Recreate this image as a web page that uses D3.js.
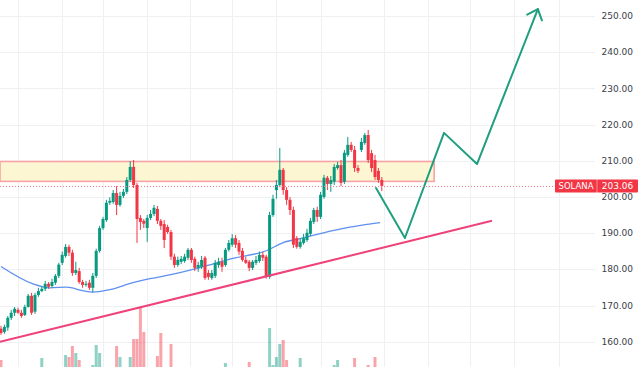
<!DOCTYPE html>
<html><head><meta charset="utf-8">
<script src="https://cdn.jsdelivr.net/npm/d3@7"></script>
<style>html,body{margin:0;padding:0;background:#fff;overflow:hidden}</style>
</head><body>
<svg id="c" width="640" height="367"></svg>
<script>
// ---- data (SOLANA candles) ----
const open  = [163.6,162.7,163.9,166.6,168.0,168.8,168.0,167.4,169.6,172.7,
168.3,172.9,174.0,174.6,176.0,175.4,176.3,178.2,181.8,183.7,
186.2,184.6,179.0,179.5,176.5,175.7,176.3,174.9,178.2,185.1,
191.4,193.6,198.4,198.6,201.1,197.8,200.3,201.4,204.7,208.3,
203.3,194.2,193.4,191.4,194.2,195.3,196.7,193.4,192.5,191.7,
190.3,183.5,181.2,182.1,182.3,183.2,185.4,182.9,180.4,180.7,
183.2,179.0,177.6,178.2,181.2,182.1,181.2,185.4,186.8,188.6,
187.3,185.1,182.6,182.1,180.4,181.8,182.3,184.0,183.5,177.9,
195.0,201.9,203.3,207.5,201.9,199.2,196.4,188.6,186.2,187.3,
188.1,189.8,193.1,196.4,194.5,200.0,205.3,203.6,204.2,208.0,
208.8,204.2,211.6,214.4,213.0,208.0,213.0,214.9,217.1,212.1,
210.2,207.2,204.7];
const high  = [164.4,164.7,167.1,168.8,169.6,169.4,168.8,170.2,173.2,173.5,
173.5,174.9,175.4,176.8,176.5,177.4,178.7,181.8,184.9,187.0,
186.8,185.4,182.1,180.4,177.1,176.8,177.1,179.0,185.7,192.0,
194.5,199.2,199.9,201.9,203.0,201.4,202.2,205.5,209.9,210.2,
203.9,195.0,193.9,195.0,196.4,197.8,197.5,193.9,193.6,192.3,
190.9,184.3,183.5,183.7,184.3,185.9,185.9,183.5,182.1,183.7,
183.7,179.8,179.8,182.6,183.2,183.2,185.9,188.1,189.7,189.5,
188.1,185.9,183.5,182.6,182.6,183.7,184.9,184.9,184.0,195.9,
200.6,204.7,213.5,208.0,202.7,200.0,197.3,189.2,188.6,189.8,
191.2,194.2,197.0,197.3,201.4,206.1,205.8,205.8,209.1,209.7,
210.2,213.0,216.6,215.2,214.1,208.8,216.3,217.7,218.5,213.0,
211.6,208.0,205.5];
const low   = [161.9,162.2,163.0,166.0,167.1,167.7,166.6,167.1,169.4,167.4,
167.7,172.4,173.7,174.0,174.6,174.9,175.7,177.6,181.2,183.2,
183.7,178.2,178.4,176.0,174.9,175.2,174.3,173.7,177.6,184.6,
190.9,193.1,197.8,198.1,195.0,197.3,199.7,200.8,204.2,202.5,
187.3,190.9,191.4,187.6,193.6,194.7,192.5,190.9,185.9,189.8,
182.6,180.4,180.7,181.5,181.8,182.6,181.8,179.5,179.3,180.1,
177.1,177.1,177.1,177.6,180.4,179.3,180.7,184.9,186.2,185.9,
184.0,182.1,181.5,179.5,179.8,181.2,181.8,182.3,177.4,177.4,
194.5,199.5,202.7,200.6,197.8,195.0,185.9,185.7,185.7,186.8,
187.6,189.2,192.5,193.1,193.9,199.5,201.9,201.4,203.3,207.5,
203.0,203.6,211.1,212.4,206.9,206.6,212.4,214.4,209.4,206.9,
204.7,203.9,201.6];
const close = [162.4,164.1,166.6,168.0,169.1,168.0,167.1,169.6,172.7,168.0,
172.9,174.0,174.6,176.0,175.2,176.5,178.2,181.3,184.0,186.2,
184.6,179.0,179.8,176.5,175.7,176.0,174.9,178.2,185.1,191.4,
193.9,198.4,198.9,201.1,197.8,200.3,201.4,204.7,208.3,203.3,
193.9,193.1,192.6,194.2,195.3,197.0,193.4,192.0,188.1,190.3,
183.5,181.2,182.6,182.9,183.5,185.4,182.6,180.4,181.2,182.6,
177.6,177.9,179.0,181.8,182.1,180.7,185.4,187.3,188.6,186.8,
184.9,182.6,181.8,180.4,182.1,182.6,184.0,183.2,177.9,195.0,
199.5,203.3,207.5,201.9,199.2,196.4,186.8,186.2,187.6,188.6,
190.1,193.4,196.4,194.5,200.6,205.3,203.6,204.7,208.3,208.8,
203.9,212.2,214.4,213.0,208.0,207.2,215.2,217.1,210.2,208.0,
205.5,204.7,203.06];
const volume = [10,2,2,2,2,2,2,2,2,2,
2,2,12,2,2,2,2,2,2,15,
13,24,17,10,2,2,2,5,25,17,
2,2,2,2,24,13,2,2,13,31,
31,63,38,2,2,2,14,37,2,2,
26,2,2,2,2,2,2,2,2,2,
2,2,2,2,2,2,7,2,2,2,
2,2,2,8,2,2,2,2,2,42,
5,13,26,30,10,2,2,2,12,2,
2,2,2,2,2,2,2,2,5,10,
2,2,2,2,12,2,2,2,5,2,
13,2,2];
// moving average, sampled along its curve
const maIdx = [0,9.4,14.4,19.4,24,27,32,38.8,43.8,48.8,58.5,68.2,78.2,83,88,97.6,107.6,111.5];
const maVal = [180.8,176.0,174.9,175.1,174.1,173.7,174.4,176.3,177.4,178.3,180.5,183.0,185.2,187.4,188.5,190.7,192.4,192.9];
// drawings
const zoneIdx = [-0.3,127.4];
const zonePrice = [204.3,209.8];
const trendIdx = [-0.3,144.4];
const trendPrice = [159.95,193.4];
const projIdx = [110.3,118.8,130.3,140,157.9];
const projPrice = [202.45,188.65,217.7,209.1,251.9];
const priceTicks = [160,170,180,190,200,210,220,230,240,250];
const gridIdx = [5,18,30,43,55.5,68,81,94,112.5,125.5,138,151,164];
const symbol = "SOLANA";
const lastPrice = 203.06;

// ---- drawing ----
const W=640,H=367,plotW=595;
const GREEN="#089981", RED="#f23645";
const x=d3.scaleLinear().domain([0,112]).range([1,381.8]);
const y=d3.scaleLinear().domain([160,250]).range([341.7,16]);
const yv=d3.scaleLinear().domain([0,100]).range([370,270]);
const svg=d3.select('#c');
svg.append('defs').append('clipPath').attr('id','plot').append('rect').attr('x',0).attr('y',0).attr('width',plotW).attr('height',H);

const grid=svg.append('g').attr('stroke','#eef0f4').attr('stroke-width',1);
grid.selectAll('line.h').data(priceTicks).join('line').attr('class','h')
  .attr('x1',0).attr('x2',plotW).attr('y1',d=>Math.round(y(d))+0.5).attr('y2',d=>Math.round(y(d))+0.5);
grid.selectAll('line.v').data(gridIdx).join('line').attr('class','v')
  .attr('x1',d=>Math.round(x(d))+0.5).attr('x2',d=>Math.round(x(d))+0.5).attr('y1',0).attr('y2',H);

const plot=svg.append('g').attr('clip-path','url(#plot)');

// zone
plot.append('rect')
  .attr('x',x(zoneIdx[0])).attr('width',x(zoneIdx[1])-x(zoneIdx[0]))
  .attr('y',y(zonePrice[1])).attr('height',y(zonePrice[0])-y(zonePrice[1]))
  .attr('fill','#fdf6d2').attr('stroke','#f6a3a5').attr('stroke-width',1.6);

const idx=d3.range(open.length);
const BW=3;
// volume
plot.append('g').selectAll('rect').data(idx).join('rect')
  .attr('x',i=>x(i)-BW/2).attr('width',BW)
  .attr('y',i=>yv(volume[i])).attr('height',i=>yv(0)-yv(volume[i]))
  .attr('fill',i=>close[i]>=open[i]?'rgba(8,153,129,0.45)':'rgba(242,54,69,0.45)');

// MA
plot.append('path').datum(maIdx.map((d,k)=>[d,maVal[k]]))
  .attr('d',d3.line().x(d=>x(d[0])).y(d=>y(d[1])).curve(d3.curveMonotoneX))
  .attr('fill','none').attr('stroke','#5f90f0').attr('stroke-width',1.3);

// candles
const cg=plot.append('g');
cg.selectAll('line').data(idx).join('line')
  .attr('x1',i=>x(i)).attr('x2',i=>x(i)).attr('y1',i=>y(high[i])).attr('y2',i=>y(low[i]))
  .attr('stroke',i=>close[i]>=open[i]?GREEN:RED).attr('stroke-width',1);
cg.selectAll('rect').data(idx).join('rect')
  .attr('x',i=>x(i)-BW/2).attr('width',BW)
  .attr('y',i=>y(Math.max(open[i],close[i])))
  .attr('height',i=>Math.max(1,Math.abs(y(open[i])-y(close[i]))))
  .attr('fill',i=>close[i]>=open[i]?GREEN:RED);

// trend line
plot.append('line')
  .attr('x1',x(trendIdx[0])).attr('y1',y(trendPrice[0]))
  .attr('x2',x(trendIdx[1])).attr('y2',y(trendPrice[1]))
  .attr('stroke','#ef4279').attr('stroke-width',2);

// projection path with arrow
const pts=projIdx.map((d,k)=>[x(d),y(projPrice[k])]);
plot.append('path').attr('d',d3.line()(pts)).attr('fill','none')
  .attr('stroke','#1f9e80').attr('stroke-width',2).attr('stroke-linejoin','round').attr('stroke-linecap','round');
{
  const a=pts[pts.length-2], b=pts[pts.length-1];
  const ang=Math.atan2(a[1]-b[1],a[0]-b[0]);
  const L=12, s=0.72;
  const p1=[b[0]+L*Math.cos(ang+s),b[1]+L*Math.sin(ang+s)];
  const p2=[b[0]+L*Math.cos(ang-s),b[1]+L*Math.sin(ang-s)];
  plot.append('path').attr('d',d3.line()([p1,b,p2])).attr('fill','none')
    .attr('stroke','#1f9e80').attr('stroke-width',2).attr('stroke-linejoin','round').attr('stroke-linecap','round');
}

// last price line
const ly=y(lastPrice);
svg.append('line').attr('x1',0).attr('x2',556).attr('y1',Math.round(ly)+0.5).attr('y2',Math.round(ly)+0.5)
  .attr('stroke','#f47c86').attr('stroke-width',1).attr('stroke-dasharray','1,2');

// price axis labels
svg.append('g').selectAll('text').data(priceTicks).join('text')
  .attr('x',633).attr('y',d=>y(d)).attr('dy','0.35em').attr('text-anchor','end')
  .attr('font-family','DejaVu Sans, sans-serif').attr('font-size',9).attr('fill','#3a3e48')
  .text(d=>d.toFixed(2));

// symbol + last price badge
const by=Math.round(ly)-6.5;
svg.append('rect').attr('x',555).attr('y',by).attr('width',42).attr('height',13).attr('fill',RED).attr('rx',1);
svg.append('rect').attr('x',597).attr('y',by).attr('width',41).attr('height',13).attr('fill',RED).attr('rx',1);
svg.append('line').attr('x1',597).attr('x2',597).attr('y1',by).attr('y2',by+13).attr('stroke','#f78a93').attr('stroke-width',1);
svg.append('text').attr('x',576).attr('y',by+6.5).attr('dy','0.35em').attr('text-anchor','middle')
  .attr('font-family','DejaVu Sans, sans-serif').attr('font-size',8.5).attr('fill','#fff').text(symbol);
svg.append('text').attr('x',617.5).attr('y',by+6.5).attr('dy','0.35em').attr('text-anchor','middle')
  .attr('font-family','DejaVu Sans, sans-serif').attr('font-size',9).attr('fill','#fff').text(lastPrice.toFixed(2));
</script>
</body></html>
